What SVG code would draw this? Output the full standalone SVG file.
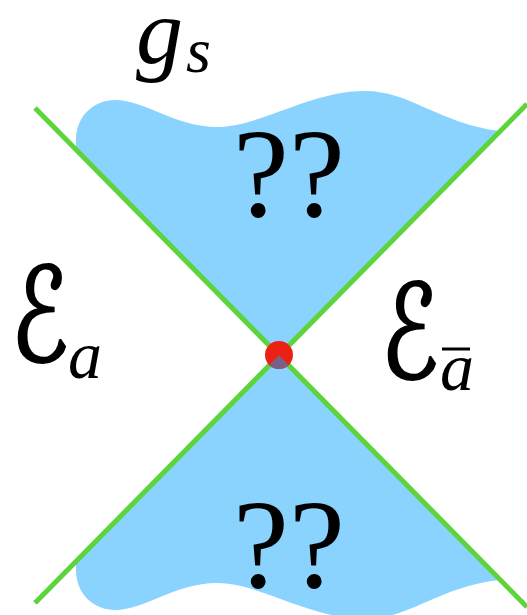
<svg xmlns="http://www.w3.org/2000/svg" width="527" height="615" viewBox="0 0 527 615">
<style>
.region{fill:#8AD3FE;stroke:none}
.edge{stroke:#5DD33C;stroke-width:5;fill:none}
.math{font-family:"Liberation Serif","DejaVu Serif",serif;font-style:italic;fill:#000}
.cal{font-family:"DejaVu Serif","DejaVu Sans",serif;font-style:italic;fill:#000;stroke:#000;stroke-width:1.6}
.q{font-family:"Liberation Serif",serif;fill:#000;text-anchor:middle}
</style>
<defs>
<clipPath id="dotclip"><circle cx="279" cy="355" r="14"/></clipPath>
</defs>
<g id="top-region">
<path class="region" d="M500,131 C440,124 410,91 365,91 C310,91 260,127 217,127 C175,127 145,100 115,100 C95,100 76,115 76,140 L76,150 L279,355 Z"/>
<text class="q" x="289" y="216" font-size="126">??</text>
</g>
<g id="bottom-region">
<path class="region" d="M500,580 C440,586 410,619 365,619 C310,619 260,583 217,583 C175,583 145,610 115,610 C95,610 76,595 76,570 L76,561 L279,355 Z"/>
<text class="q" x="289" y="587" font-size="126">??</text>
</g>
<g id="connectors">
<line class="edge" x1="35" y1="108" x2="527" y2="607"/>
<line class="edge" x1="527" y1="104" x2="35" y2="603"/>
</g>
<g id="point">
<circle cx="279" cy="355" r="14" fill="#ED2113"/>
<path d="M279,355 L259,376 L299,376 Z" fill="#7B5F84" clip-path="url(#dotclip)"/>
</g>
<g id="label-gs">
<text class="math" x="136" y="63" font-size="94">g</text>
<text class="math" x="186" y="72" font-size="64">s</text>
</g>
<g id="label-Ea">
<text class="cal" transform="translate(11,361) scale(1,1.36)" font-size="96">ℰ</text>
<text class="math" x="68" y="378" font-size="68">a</text>
</g>
<g id="label-Eabar">
<text class="cal" transform="translate(381,378) scale(1,1.36)" font-size="96">ℰ</text>
<text class="math" x="440" y="390" font-size="68">a</text>
<line x1="442" y1="349" x2="470" y2="349" stroke="#000" stroke-width="3"/>
</g>
</svg>
